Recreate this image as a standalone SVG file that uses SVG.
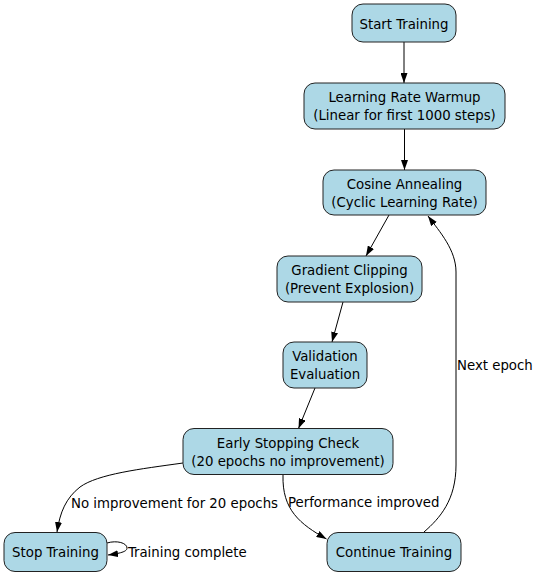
<svg xmlns="http://www.w3.org/2000/svg" width="536" height="576" viewBox="0 0 536 576">
<style>
  .node rect { fill: #ADD8E6; stroke: #222; stroke-width: 1; }
  text { font-family: "DejaVu Sans Condensed", "DejaVu Sans", sans-serif; font-stretch: condensed; font-size: 14.8px; fill: #000; }
  .node text { text-anchor: middle; }
  .edge { fill: none; stroke: #000; stroke-width: 1; marker-end: url(#arrow); }
</style>
<defs>
  <marker id="arrow" markerUnits="userSpaceOnUse" markerWidth="10" markerHeight="7" refX="10" refY="3.5" orient="auto">
    <path d="M0,0 L10,3.5 L0,7 z" fill="#000"/>
  </marker>
</defs>
<rect width="536" height="576" fill="#fff"/>
<g id="connectors">
  <path class="edge" d="M404,42 L404,83"/>
  <path class="edge" d="M404.5,129 L404.5,170"/>
  <path class="edge" d="M389,215 L366,256"/>
  <path class="edge" d="M343,302 L332,342"/>
  <path class="edge" d="M315,388 L298.5,428.5"/>
  <path class="edge" d="M183,463 C140,469 98,474 80,487 C66,498 60,512 57,532"/>
  <path class="edge" d="M283,475 C282,510 300,524 326.5,539"/>
  <path class="edge" d="M424,532 C440,518 456,500 456,465 L456,272 C456,250 440,232 428,216"/>
  <path class="edge" d="M107,543 C117,540 127,543 127,548 C127,551 123,553 108,555"/>
  <text x="71" y="508">No improvement for 20 epochs</text>
  <text x="288" y="507">Performance improved</text>
  <text x="457" y="370">Next epoch</text>
  <text x="128" y="557">Training complete</text>
</g>
<g id="start" class="node">
  <rect x="352" y="4" width="104" height="38" rx="11"/>
  <text x="404" y="28.5">Start Training</text>
</g>
<g id="warmup" class="node">
  <rect x="304" y="83" width="201" height="46" rx="11"/>
  <text x="404.5" y="102">Learning Rate Warmup</text>
  <text x="404.5" y="120">(Linear for first 1000 steps)</text>
</g>
<g id="cosine" class="node">
  <rect x="323" y="170" width="163" height="45" rx="11"/>
  <text x="404.5" y="188.5">Cosine Annealing</text>
  <text x="404.5" y="206.5">(Cyclic Learning Rate)</text>
</g>
<g id="gradient" class="node">
  <rect x="277" y="256" width="145" height="46" rx="11"/>
  <text x="349.5" y="275">Gradient Clipping</text>
  <text x="349.5" y="293">(Prevent Explosion)</text>
</g>
<g id="validation" class="node">
  <rect x="283" y="342" width="84" height="46" rx="11"/>
  <text x="325" y="361">Validation</text>
  <text x="325" y="379">Evaluation</text>
</g>
<g id="early" class="node">
  <rect x="183" y="428.5" width="210" height="46" rx="11"/>
  <text x="288" y="447.5">Early Stopping Check</text>
  <text x="288" y="465.5">(20 epochs no improvement)</text>
</g>
<g id="stop" class="node">
  <rect x="4" y="532.5" width="103" height="39" rx="11"/>
  <text x="55.5" y="557">Stop Training</text>
</g>
<g id="continue" class="node">
  <rect x="327" y="532.5" width="134" height="39" rx="11"/>
  <text x="394" y="557">Continue Training</text>
</g>
</svg>
